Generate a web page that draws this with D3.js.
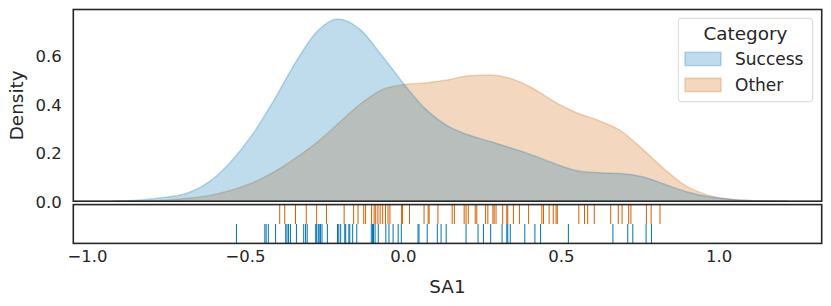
<!DOCTYPE html>
<html>
<head>
<meta charset="utf-8">
<script src="https://cdn.jsdelivr.net/npm/d3@7"></script>
<style>
  html, body { margin: 0; padding: 0; background: #fff; }
  svg { display: block; font-family: "DejaVu Sans", sans-serif; }
</style>
</head>
<body>
<svg id="chart" width="831" height="306"></svg>
<script>
// ---- data ----
const categories = ["Success", "Other"];
// rug observations
const successVals = [-0.527, -0.437, -0.433, -0.426, -0.403, -0.371, -0.367, -0.362, -0.356, -0.337,
  -0.314, -0.308, -0.303, -0.276, -0.273, -0.268, -0.265, -0.261, -0.256, -0.239,
  -0.207, -0.203, -0.197, -0.184, -0.181, -0.171, -0.168, -0.159, -0.146, -0.100,
  -0.096, -0.093, -0.088, -0.078, -0.054, -0.044, -0.031, -0.015, -0.005, 0.048,
  0.051, 0.077, 0.109, 0.121, 0.137, 0.200, 0.238, 0.255, 0.278, 0.314,
  0.329, 0.332, 0.340, 0.386, 0.418, 0.436, 0.524, 0.665, 0.712, 0.728,
  0.770, 0.787];
const otherVals = [-0.390, -0.374, -0.340, -0.306, -0.273, -0.242, -0.186, -0.156, -0.142, -0.124,
  -0.118, -0.099, -0.091, -0.086, -0.079, -0.072, -0.064, -0.055, -0.047, -0.041,
  -0.004, -0.001, 0.021, 0.067, 0.080, 0.083, 0.111, 0.156, 0.163, 0.194,
  0.200, 0.207, 0.229, 0.234, 0.262, 0.269, 0.285, 0.289, 0.295, 0.316,
  0.329, 0.332, 0.350, 0.369, 0.398, 0.440, 0.445, 0.463, 0.476, 0.485,
  0.489, 0.557, 0.575, 0.585, 0.606, 0.658, 0.682, 0.694, 0.715, 0.722,
  0.771, 0.786, 0.814];
// density curves (SA1 grid and density per category)
const densityX = [-0.92, -0.876, -0.821, -0.753, -0.684, -0.616, -0.547, -0.478, -0.409, -0.341,
  -0.272, -0.206, -0.135, -0.066, 0.003, 0.071, 0.140, 0.209, 0.277, 0.346,
  0.415, 0.483, 0.552, 0.621, 0.689, 0.758, 0.827, 0.895, 0.964, 1.033,
  1.101, 1.170, 1.22];
const successDensity = [0, 0.002, 0.006, 0.016, 0.033, 0.078, 0.160, 0.272, 0.415, 0.570,
  0.700, 0.752, 0.708, 0.600, 0.484, 0.381, 0.312, 0.273, 0.246, 0.218,
  0.188, 0.154, 0.126, 0.117, 0.114, 0.101, 0.071, 0.040, 0.019, 0.008,
  0.002, 0.0005, 0];
const otherDensity = [0, 0.0005, 0.001, 0.004, 0.012, 0.023, 0.044, 0.075, 0.120, 0.177,
  0.243, 0.319, 0.401, 0.460, 0.481, 0.488, 0.500, 0.518, 0.521, 0.504,
  0.463, 0.408, 0.364, 0.332, 0.291, 0.216, 0.133, 0.064, 0.026, 0.009,
  0.003, 0.001, 0];
const xTicks = [-1.0, -0.5, 0.0, 0.5, 1.0];
const yTicks = [0.0, 0.2, 0.4, 0.6];
const xLabel = "SA1", yLabel = "Density", legendTitle = "Category";

// ---- styles ----
const colors = { Success: "#0173b2", Other: "#d55e00" };
const ink = "#262626";

// ---- layout ----
const L = 73.3, R = 821.7;
const topY0 = 9.5, topY1 = 201.2;
const rugY0 = 204.6, rugY1 = 243.4;

const x = d3.scaleLinear().domain([-1.0435, 1.326]).range([L, R]);
const y = d3.scaleLinear().domain([0, 0.791]).range([topY1, topY0]);

const series = {
  Success: densityX.map((v, i) => [v, successDensity[i]]),
  Other: densityX.map((v, i) => [v, otherDensity[i]])
};

const svg = d3.select("#chart");

svg.append("defs").append("clipPath").attr("id", "clipTop")
  .append("rect").attr("x", L).attr("y", topY0).attr("width", R - L).attr("height", topY1 - topY0);

const area = d3.area().x(d => x(d[0])).y0(y(0)).y1(d => y(d[1])).curve(d3.curveMonotoneX);
const line = d3.line().x(d => x(d[0])).y(d => y(d[1])).curve(d3.curveMonotoneX);

const gTop = svg.append("g").attr("clip-path", "url(#clipTop)");
["Other", "Success"].forEach(k => {
  gTop.append("path").datum(series[k]).attr("d", area)
    .attr("fill", colors[k]).attr("fill-opacity", 0.25);
  gTop.append("path").datum(series[k]).attr("d", line)
    .attr("fill", "none").attr("stroke", colors[k]).attr("stroke-opacity", 0.25).attr("stroke-width", 1.5);
});

// rug
const rugMid = (rugY0 + rugY1) / 2;
const gRug = svg.append("g");
gRug.selectAll("line.o").data(otherVals).join("line")
  .attr("x1", d => x(d)).attr("x2", d => x(d))
  .attr("y1", rugY0).attr("y2", rugMid)
  .attr("stroke", colors.Other).attr("stroke-width", 1);
gRug.selectAll("line.s").data(successVals).join("line")
  .attr("x1", d => x(d)).attr("x2", d => x(d))
  .attr("y1", rugMid).attr("y2", rugY1)
  .attr("stroke", colors.Success).attr("stroke-width", 1);

// frames
svg.append("rect").attr("x", L).attr("y", topY0).attr("width", R - L).attr("height", topY1 - topY0)
  .attr("fill", "none").attr("stroke", ink).attr("stroke-width", 1.6);
svg.append("rect").attr("x", L).attr("y", rugY0).attr("width", R - L).attr("height", rugY1 - rugY0)
  .attr("fill", "none").attr("stroke", ink).attr("stroke-width", 1.6);

// x axis (no tick marks, seaborn white style)
const xAxis = d3.axisBottom(x).tickValues(xTicks).tickSize(0).tickPadding(0)
  .tickFormat(d => d3.format(".1f")(d).replace("-", "\u2212"));
const gx = svg.append("g").attr("transform", `translate(0,${rugY1})`).call(xAxis);
gx.select(".domain").remove();
gx.selectAll("text").attr("dy", null).attr("y", 18.2)
  .attr("font-size", "16.5px").attr("fill", ink).attr("font-family", "DejaVu Sans");

// y axis
const yAxis = d3.axisLeft(y).tickValues(yTicks).tickSize(0).tickPadding(0)
  .tickFormat(d3.format(".1f"));
const gy = svg.append("g").attr("transform", `translate(${L - 11.5},0)`).call(yAxis);
gy.select(".domain").remove();
gy.selectAll("text").attr("dy", "0.36em").attr("x", 0)
  .attr("font-size", "16.5px").attr("fill", ink).attr("font-family", "DejaVu Sans");

// axis labels
svg.append("text").attr("x", (L + R) / 2).attr("y", 293).attr("text-anchor", "middle")
  .attr("font-size", "18.4px").attr("fill", ink).text(xLabel);
svg.append("text").attr("transform", `translate(23,${(topY0 + topY1) / 2}) rotate(-90)`)
  .attr("text-anchor", "middle").attr("font-size", "18.4px").attr("fill", ink).text(yLabel);

// legend
const lg = svg.append("g");
lg.append("rect").attr("x", 678.3).attr("y", 18.3).attr("width", 134.4).attr("height", 83.4)
  .attr("rx", 3).attr("fill", "#fff").attr("fill-opacity", 0.8).attr("stroke", "#d6d6d6").attr("stroke-width", 1);
lg.append("text").attr("x", 745.5).attr("y", 39.5).attr("text-anchor", "middle")
  .attr("font-size", "18.4px").attr("fill", ink).text(legendTitle);
categories.forEach((k, i) => {
  const yy = 52.3 + i * 26;
  lg.append("rect").attr("x", 685).attr("y", yy).attr("width", 36).attr("height", 13.3)
    .attr("fill", colors[k]).attr("fill-opacity", 0.25)
    .attr("stroke", colors[k]).attr("stroke-opacity", 0.25).attr("stroke-width", 1.5);
  lg.append("text").attr("x", 735).attr("y", yy + 12.8)
    .attr("font-size", "17px").attr("fill", ink).text(k);
});
</script>
</body>
</html>
